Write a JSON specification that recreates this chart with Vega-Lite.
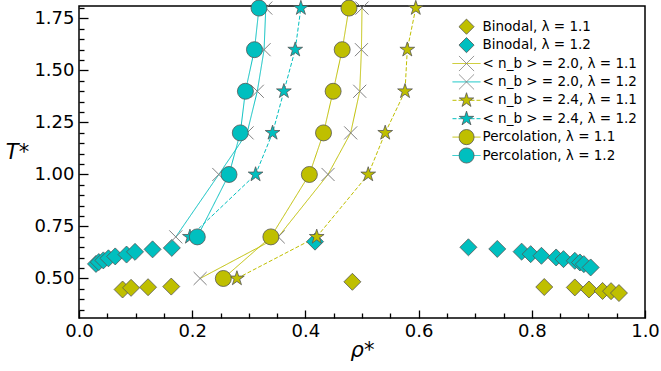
{
  "$schema": "https://vega.github.io/schema/vega-lite/v6.json",
  "width": 566,
  "height": 312,
  "autosize": "none",
  "padding": {"left": 79, "top": 6, "right": 16, "bottom": 53},
  "background": "white",
  "config": {
    "view": {"stroke": "black", "strokeWidth": 1.5},
    "font": "DejaVu Sans",
    "axis": {
      "grid": false,
      "domain": false,
      "labelFlush": false,
      "labelFont": "DejaVu Sans",
      "labelFontSize": 18,
      "labelColor": "black",
      "tickColor": "black",
      "tickWidth": 1.3,
      "titleFont": "DejaVu Sans",
      "titleFontSize": 21,
      "titleFontWeight": "normal",
      "titleFontStyle": "italic",
      "titleColor": "black"
    },
    "legend": {"padding": 0}
  },
  "datasets": {
    "pts": [
      {"series": "Binodal, λ = 1.1", "rho": 0.077, "T": 0.447},
      {"series": "Binodal, λ = 1.1", "rho": 0.092, "T": 0.455},
      {"series": "Binodal, λ = 1.1", "rho": 0.122, "T": 0.458},
      {"series": "Binodal, λ = 1.1", "rho": 0.163, "T": 0.461},
      {"series": "Binodal, λ = 1.1", "rho": 0.483, "T": 0.484},
      {"series": "Binodal, λ = 1.1", "rho": 0.822, "T": 0.459},
      {"series": "Binodal, λ = 1.1", "rho": 0.876, "T": 0.457},
      {"series": "Binodal, λ = 1.1", "rho": 0.901, "T": 0.447},
      {"series": "Binodal, λ = 1.1", "rho": 0.925, "T": 0.44},
      {"series": "Binodal, λ = 1.1", "rho": 0.94, "T": 0.439},
      {"series": "Binodal, λ = 1.1", "rho": 0.954, "T": 0.43},
      {"series": "Binodal, λ = 1.2", "rho": 0.03, "T": 0.57},
      {"series": "Binodal, λ = 1.2", "rho": 0.035, "T": 0.579},
      {"series": "Binodal, λ = 1.2", "rho": 0.043, "T": 0.587},
      {"series": "Binodal, λ = 1.2", "rho": 0.052, "T": 0.597},
      {"series": "Binodal, λ = 1.2", "rho": 0.064, "T": 0.606},
      {"series": "Binodal, λ = 1.2", "rho": 0.084, "T": 0.615},
      {"series": "Binodal, λ = 1.2", "rho": 0.099, "T": 0.628},
      {"series": "Binodal, λ = 1.2", "rho": 0.13, "T": 0.64},
      {"series": "Binodal, λ = 1.2", "rho": 0.164, "T": 0.647},
      {"series": "Binodal, λ = 1.2", "rho": 0.417, "T": 0.677},
      {"series": "Binodal, λ = 1.2", "rho": 0.688, "T": 0.65},
      {"series": "Binodal, λ = 1.2", "rho": 0.739, "T": 0.642},
      {"series": "Binodal, λ = 1.2", "rho": 0.782, "T": 0.629},
      {"series": "Binodal, λ = 1.2", "rho": 0.798, "T": 0.617},
      {"series": "Binodal, λ = 1.2", "rho": 0.817, "T": 0.609},
      {"series": "Binodal, λ = 1.2", "rho": 0.843, "T": 0.601},
      {"series": "Binodal, λ = 1.2", "rho": 0.856, "T": 0.593},
      {"series": "Binodal, λ = 1.2", "rho": 0.876, "T": 0.585},
      {"series": "Binodal, λ = 1.2", "rho": 0.885, "T": 0.577},
      {"series": "Binodal, λ = 1.2", "rho": 0.892, "T": 0.569},
      {"series": "Binodal, λ = 1.2", "rho": 0.904, "T": 0.553},
      {"series": "< n_b > = 2.0, λ = 1.1", "rho": 0.214, "T": 0.5},
      {"series": "< n_b > = 2.0, λ = 1.1", "rho": 0.352, "T": 0.7},
      {"series": "< n_b > = 2.0, λ = 1.1", "rho": 0.44, "T": 1.0},
      {"series": "< n_b > = 2.0, λ = 1.1", "rho": 0.48, "T": 1.2},
      {"series": "< n_b > = 2.0, λ = 1.1", "rho": 0.496, "T": 1.4},
      {"series": "< n_b > = 2.0, λ = 1.1", "rho": 0.499, "T": 1.6},
      {"series": "< n_b > = 2.0, λ = 1.1", "rho": 0.5, "T": 1.8},
      {"series": "< n_b > = 2.0, λ = 1.2", "rho": 0.171, "T": 0.7},
      {"series": "< n_b > = 2.0, λ = 1.2", "rho": 0.247, "T": 1.0},
      {"series": "< n_b > = 2.0, λ = 1.2", "rho": 0.297, "T": 1.2},
      {"series": "< n_b > = 2.0, λ = 1.2", "rho": 0.315, "T": 1.4},
      {"series": "< n_b > = 2.0, λ = 1.2", "rho": 0.327, "T": 1.6},
      {"series": "< n_b > = 2.0, λ = 1.2", "rho": 0.33, "T": 1.8},
      {"series": "< n_b > = 2.4, λ = 1.1", "rho": 0.279, "T": 0.5},
      {"series": "< n_b > = 2.4, λ = 1.1", "rho": 0.42, "T": 0.7},
      {"series": "< n_b > = 2.4, λ = 1.1", "rho": 0.511, "T": 1.0},
      {"series": "< n_b > = 2.4, λ = 1.1", "rho": 0.541, "T": 1.2},
      {"series": "< n_b > = 2.4, λ = 1.1", "rho": 0.576, "T": 1.4},
      {"series": "< n_b > = 2.4, λ = 1.1", "rho": 0.58, "T": 1.6},
      {"series": "< n_b > = 2.4, λ = 1.1", "rho": 0.595, "T": 1.8},
      {"series": "< n_b > = 2.4, λ = 1.2", "rho": 0.196, "T": 0.7},
      {"series": "< n_b > = 2.4, λ = 1.2", "rho": 0.312, "T": 1.0},
      {"series": "< n_b > = 2.4, λ = 1.2", "rho": 0.342, "T": 1.2},
      {"series": "< n_b > = 2.4, λ = 1.2", "rho": 0.362, "T": 1.4},
      {"series": "< n_b > = 2.4, λ = 1.2", "rho": 0.382, "T": 1.6},
      {"series": "< n_b > = 2.4, λ = 1.2", "rho": 0.392, "T": 1.8},
      {"series": "Percolation, λ = 1.1", "rho": 0.255, "T": 0.5},
      {"series": "Percolation, λ = 1.1", "rho": 0.339, "T": 0.7},
      {"series": "Percolation, λ = 1.1", "rho": 0.407, "T": 1.0},
      {"series": "Percolation, λ = 1.1", "rho": 0.432, "T": 1.2},
      {"series": "Percolation, λ = 1.1", "rho": 0.449, "T": 1.4},
      {"series": "Percolation, λ = 1.1", "rho": 0.465, "T": 1.6},
      {"series": "Percolation, λ = 1.1", "rho": 0.477, "T": 1.8},
      {"series": "Percolation, λ = 1.2", "rho": 0.209, "T": 0.7},
      {"series": "Percolation, λ = 1.2", "rho": 0.265, "T": 1.0},
      {"series": "Percolation, λ = 1.2", "rho": 0.285, "T": 1.2},
      {"series": "Percolation, λ = 1.2", "rho": 0.294, "T": 1.4},
      {"series": "Percolation, λ = 1.2", "rho": 0.31, "T": 1.6},
      {"series": "Percolation, λ = 1.2", "rho": 0.318, "T": 1.8}
    ]
  },
  "data": {"name": "pts"},
  "encoding": {
    "x": {
      "field": "rho", "type": "quantitative",
      "scale": {"domain": [0, 1], "nice": false},
      "axis": {
        "values": [0, 0.05, 0.1, 0.15, 0.2, 0.25, 0.3, 0.35, 0.4, 0.45, 0.5, 0.55, 0.6, 0.65, 0.7, 0.75, 0.8, 0.85, 0.9, 0.95, 1.0],
        "labelExpr": "abs(datum.value*5 - round(datum.value*5)) < 0.001 ? format(datum.value, '.1f') : ''",
        "tickSize": {"condition": {"test": "abs(datum.value*5 - round(datum.value*5)) < 0.001", "value": -8}, "value": -5},
        "labelPadding": 12,
        "title": "ρ*", "titleBaseline": "alphabetic", "titleY": 38
      }
    },
    "y": {
      "field": "T", "type": "quantitative",
      "scale": {"domain": [0.31, 1.81], "nice": false, "zero": false},
      "axis": {
        "values": [0.35, 0.4, 0.45, 0.5, 0.55, 0.6, 0.65, 0.7, 0.75, 0.8, 0.85, 0.9, 0.95, 1.0, 1.05, 1.1, 1.15, 1.2, 1.25, 1.3, 1.35, 1.4, 1.45, 1.5, 1.55, 1.6, 1.65, 1.7, 1.75, 1.8],
        "labelExpr": "abs(datum.value*4 - round(datum.value*4)) < 0.001 ? format(datum.value, '.2f') : ''",
        "tickSize": {"condition": {"test": "abs(datum.value*4 - round(datum.value*4)) < 0.001", "value": -9}, "value": -5},
        "labelPadding": 14,
        "title": "T*", "titleAngle": 0, "titleX": -62, "titleY": 146, "titleAlign": "center", "titleBaseline": "middle"
      }
    }
  },
  "layer": [
    {
      "transform": [{"filter": "indexof(datum.series, 'Binodal') < 0"}],
      "mark": {"type": "line", "strokeWidth": 1},
      "encoding": {
        "order": {"field": "T", "type": "quantitative"},
        "color": {
          "field": "series", "type": "nominal",
          "scale": {
            "domain": ["Binodal, λ = 1.1", "Binodal, λ = 1.2", "< n_b > = 2.0, λ = 1.1", "< n_b > = 2.0, λ = 1.2", "< n_b > = 2.4, λ = 1.1", "< n_b > = 2.4, λ = 1.2", "Percolation, λ = 1.1", "Percolation, λ = 1.2", "zz"],
            "range": ["transparent", "transparent", "#bfbf00", "#00bfbf", "#bfbf00", "#00bfbf", "#bfbf00", "#00bfbf", "transparent"]
          },
          "legend": {"title": null, "orient": "none", "legendX": 373, "legendY": 11.7, "symbolType": "stroke", "symbolSize": 784, "symbolStrokeWidth": 1, "clipHeight": 18, "rowPadding": 0.4, "labelExpr": "''", "labelFontSize": 13.5}
        },
        "strokeDash": {
          "field": "series", "type": "nominal",
          "scale": {
            "domain": ["Binodal, λ = 1.1", "Binodal, λ = 1.2", "< n_b > = 2.0, λ = 1.1", "< n_b > = 2.0, λ = 1.2", "< n_b > = 2.4, λ = 1.1", "< n_b > = 2.4, λ = 1.2", "Percolation, λ = 1.1", "Percolation, λ = 1.2", "zz"],
            "range": [[1, 0], [1, 0], [1, 0], [1, 0], [4, 2], [4, 2], [1, 0], [1, 0], [1, 0]]
          },
          "legend": {"title": null, "orient": "none", "legendX": 373, "legendY": 11.7, "symbolType": "stroke", "symbolSize": 784, "symbolStrokeWidth": 1, "clipHeight": 18, "rowPadding": 0.4, "labelExpr": "''", "labelFontSize": 13.5}
        }
      }
    },
    {
      "transform": [{"filter": "indexof(datum.series, 'Binodal') == 0"}],
      "mark": {"type": "point", "filled": true, "opacity": 1, "strokeWidth": 0.8, "size": 289},
      "encoding": {
        "shape": {"field": "series", "type": "nominal", "scale": {"domain": ["Binodal, λ = 1.1", "Binodal, λ = 1.2", "< n_b > = 2.0, λ = 1.1", "< n_b > = 2.0, λ = 1.2", "< n_b > = 2.4, λ = 1.1", "< n_b > = 2.4, λ = 1.2", "Percolation, λ = 1.1", "Percolation, λ = 1.2"], "range": ["diamond", "diamond", "M-1,-1L1,1M-1,1L1,-1", "M-1,-1L1,1M-1,1L1,-1", "M0,-1L0.2245,-0.309L0.951,-0.309L0.363,0.118L0.588,0.809L0,0.382L-0.588,0.809L-0.363,0.118L-0.951,-0.309L-0.2245,-0.309Z", "M0,-1L0.2245,-0.309L0.951,-0.309L0.363,0.118L0.588,0.809L0,0.382L-0.588,0.809L-0.363,0.118L-0.951,-0.309L-0.2245,-0.309Z", "circle", "circle"]},
          "legend": {"title": null, "orient": "none", "legendX": 379.5, "legendY": 11.7, "clipHeight": 18, "rowPadding": 0.4, "labelOffset": 8, "labelFontSize": 13.5, "labelFont": "DejaVu Sans", "labelColor": "black", "labelLimit": 300, "symbolStrokeWidth": 0.8, "symbolSize": 230}},
        "fill": {"field": "series", "type": "nominal", "scale": {"domain": ["Binodal, λ = 1.1", "Binodal, λ = 1.2", "< n_b > = 2.0, λ = 1.1", "< n_b > = 2.0, λ = 1.2", "< n_b > = 2.4, λ = 1.1", "< n_b > = 2.4, λ = 1.2", "Percolation, λ = 1.1", "Percolation, λ = 1.2"], "range": ["#bfbf00", "#00bfbf", "transparent", "transparent", "#bfbf00", "#00bfbf", "#bfbf00", "#00bfbf"]},
          "legend": {"title": null, "orient": "none", "legendX": 379.5, "legendY": 11.7, "clipHeight": 18, "rowPadding": 0.4, "labelOffset": 8, "labelFontSize": 13.5, "labelFont": "DejaVu Sans", "labelColor": "black", "labelLimit": 300, "symbolStrokeWidth": 0.8, "symbolSize": 230}},
        "stroke": {"field": "series", "type": "nominal", "scale": {"domain": ["Binodal, λ = 1.1", "Binodal, λ = 1.2", "< n_b > = 2.0, λ = 1.1", "< n_b > = 2.0, λ = 1.2", "< n_b > = 2.4, λ = 1.1", "< n_b > = 2.4, λ = 1.2", "Percolation, λ = 1.1", "Percolation, λ = 1.2"], "range": ["#555555", "#555555", "#808080", "#808080", "#555555", "#555555", "#555555", "#555555"]},
          "legend": {"title": null, "orient": "none", "legendX": 379.5, "legendY": 11.7, "clipHeight": 18, "rowPadding": 0.4, "labelOffset": 8, "labelFontSize": 13.5, "labelFont": "DejaVu Sans", "labelColor": "black", "labelLimit": 300, "symbolStrokeWidth": 0.8, "symbolSize": 230}}
      }
    },
    {
      "transform": [{"filter": "indexof(datum.series, '2.0') > 0"}],
      "mark": {"type": "point", "filled": true, "opacity": 1, "strokeWidth": 1, "size": 170},
      "encoding": {
        "shape": {"field": "series", "type": "nominal"},
        "fill": {"field": "series", "type": "nominal"},
        "stroke": {"field": "series", "type": "nominal"}
      }
    },
    {
      "transform": [{"filter": "indexof(datum.series, '2.4') > 0"}],
      "mark": {"type": "point", "filled": true, "opacity": 1, "strokeWidth": 0.8, "size": 240},
      "encoding": {
        "shape": {"field": "series", "type": "nominal"},
        "fill": {"field": "series", "type": "nominal"},
        "stroke": {"field": "series", "type": "nominal"}
      }
    },
    {
      "transform": [{"filter": "indexof(datum.series, 'Percolation') == 0"}],
      "mark": {"type": "point", "filled": true, "opacity": 1, "strokeWidth": 0.8, "size": 256},
      "encoding": {
        "shape": {"field": "series", "type": "nominal"},
        "fill": {"field": "series", "type": "nominal"},
        "stroke": {"field": "series", "type": "nominal"}
      }
    }
  ]
}
